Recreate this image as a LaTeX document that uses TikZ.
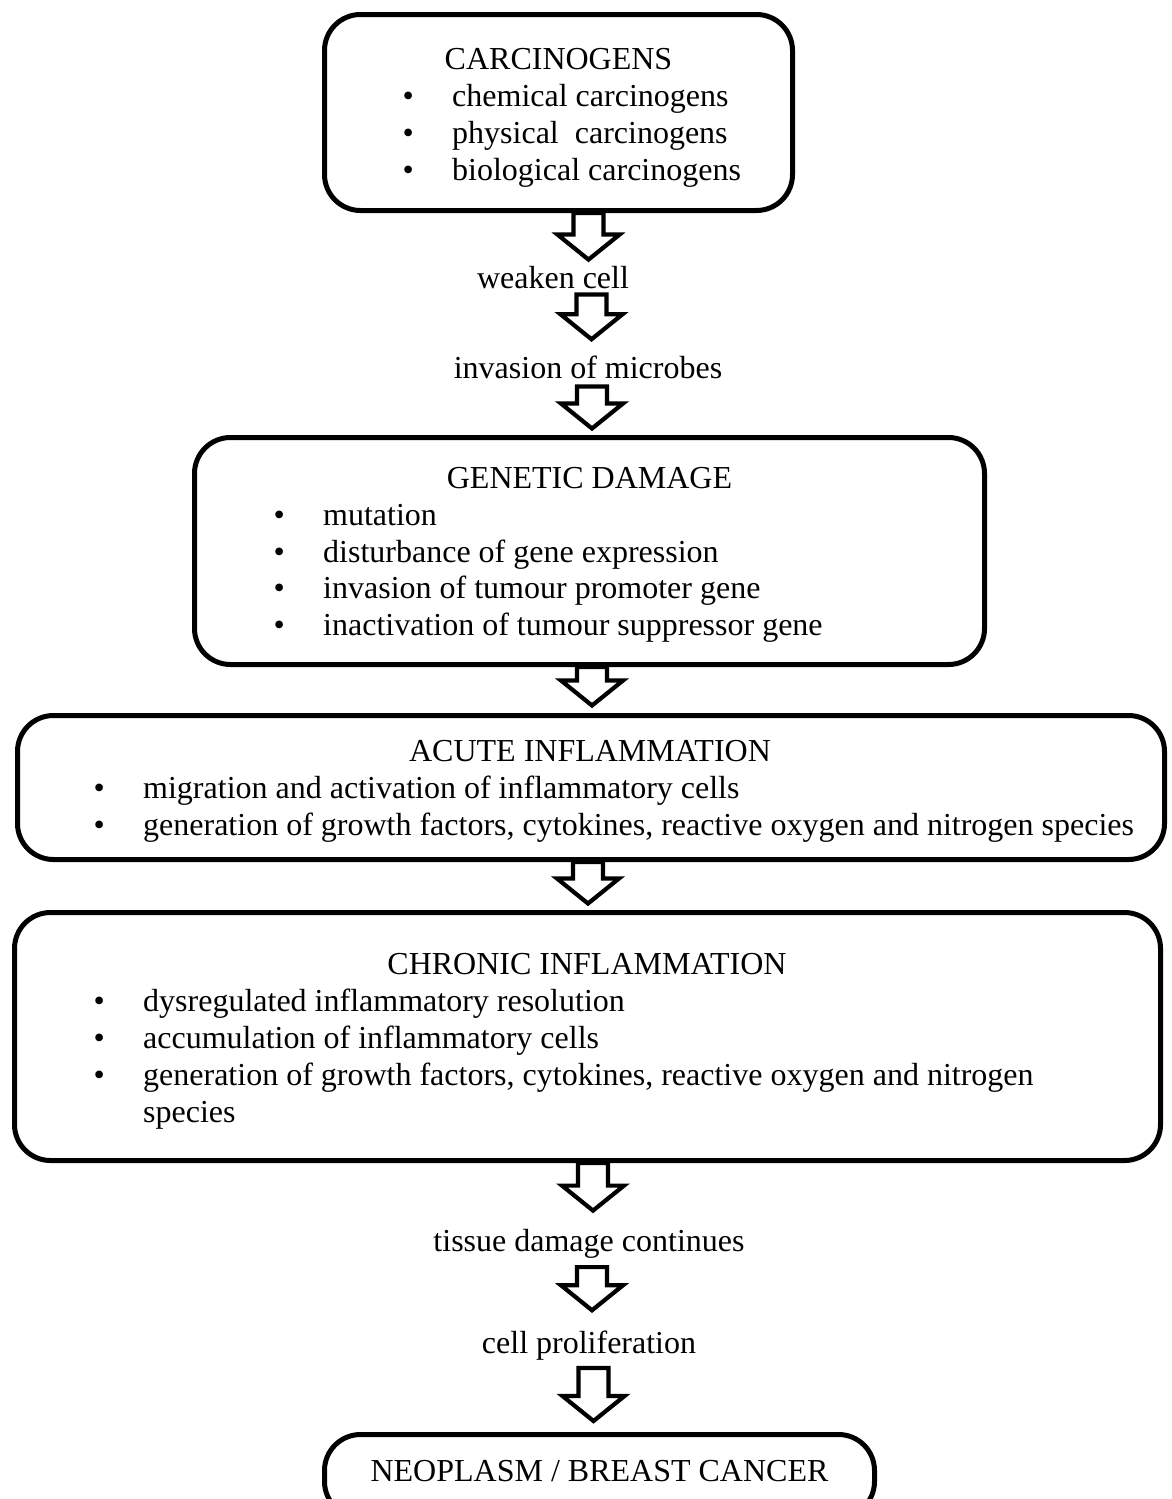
\documentclass[tikz,border=0pt]{standalone}
\usepackage{fontspec}
\setmainfont{Liberation Serif}
\usetikzlibrary{calc}
\begin{document}
\begin{tikzpicture}[x=1pt,y=-1pt,
  box/.style={draw, line width=5pt, rounded corners=36pt, inner sep=0pt, fill=white},
  txt/.style={inner sep=0pt, yshift=-1.5pt, font=\fontsize{32}{36.8}\selectfont},
  head/.style={txt, anchor=base},
  plain/.style={txt, anchor=base west},
  item/.style={txt, anchor=base west, execute at begin node={\llap{\textbullet\hspace{38.4pt}}}},
  barrow/.style={line width=4.2pt, fill=white, miter limit=20,
    to path={let \p1=(\tikztostart), \p2=(\tikztotarget) in
      ({#1pt-15pt},\y1) -- ({#1pt-15pt},{\y2+25pt}) -- ({#1pt-31pt},{\y2+25pt})
      -- ({#1pt},\y2) -- ({#1pt+31pt},{\y2+25pt}) -- ({#1pt+15pt},{\y2+25pt})
      -- ({#1pt+15pt},\y1) -- cycle}}]
\useasboundingbox (0,0) rectangle (1172,1499);

% boxes
\node[box, minimum width=468pt, minimum height=196pt] (c1) at (558.5,112.5) {};
\node[box, minimum width=790pt, minimum height=227pt] (gd) at (589.5,551) {};
\node[box, minimum width=1147pt, minimum height=144pt] (ac) at (591,787.5) {};
\node[box, minimum width=1146pt, minimum height=248pt] (ch) at (587.5,1036.5) {};
\node[box, minimum width=550pt, minimum height=83pt] (neo) at (599.5,1476) {};

% box texts
\node[head] (c1h) at (558.5,68) {CARCINOGENS};
\node[item] (c1a) at (452,105) {chemical carcinogens};
\node[item] (c1b) at (452,141.8) {physical\ \ carcinogens};
\node[item] (c1c) at (452,178.6) {biological carcinogens};

\node[head] (gdh) at (589.5,487) {GENETIC DAMAGE};
\node[item] (gda) at (323,523.8) {mutation};
\node[item] (gdb) at (323,560.6) {disturbance of gene expression};
\node[item] (gdc) at (323,597.4) {invasion of tumour promoter gene};
\node[item] (gdd) at (323,634.2) {inactivation of tumour suppressor gene};

\node[head] (ach) at (590,760) {ACUTE INFLAMMATION};
\node[item] (aca) at (143,797) {migration and activation of inflammatory cells};
\node[item] (acb) at (143,834) {generation of growth factors, cytokines, reactive oxygen and nitrogen species};

\node[head] (chh) at (587,973) {CHRONIC INFLAMMATION};
\node[item] (cha) at (143,1010) {dysregulated inflammatory resolution};
\node[item] (chb) at (143,1047) {accumulation of inflammatory cells};
\node[item] (chc) at (143,1084) {generation of growth factors, cytokines, reactive oxygen and nitrogen};
\node[plain] (chd) at (143,1121) {species};

\node[head] (neoh) at (599.5,1480) {NEOPLASM / BREAST CANCER};

% free labels
\node[head] (w) at (553,287) {weaken cell};
\node[head] (inv) at (588,377) {invasion of microbes};
\node[head] (tdc) at (589,1250) {tissue damage continues};
\node[head] (cp) at (589,1352) {cell proliferation};

% block arrows
\draw[barrow=588.5] (c1.south) to ([yshift=6.5pt]w.north);
\draw[barrow=591.5] ([yshift=-5.5pt]w.south) to ([yshift=16.5pt]inv.north);
\draw[barrow=592] ([yshift=-7.5pt]inv.south) to ([yshift=6.5pt]gd.north);
\draw[barrow=592] (gd.south) to ([yshift=7.5pt]ac.north);
\draw[barrow=588] (ac.south) to ([yshift=6.5pt]ch.north);
\draw[barrow=593] (ch.south) to ([yshift=18.5pt]tdc.north);
\draw[barrow=592] ([yshift=-8.5pt]tdc.south) to ([yshift=20.5pt]cp.north);
\draw[barrow=593.5] ([yshift=-7.5pt]cp.south) to ([yshift=11pt]neo.north);
\end{tikzpicture}
\end{document}
